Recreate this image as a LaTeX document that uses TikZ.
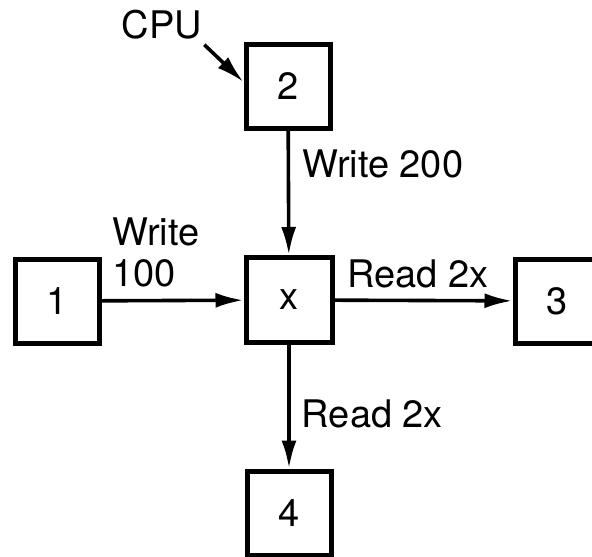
\documentclass[tikz,border=0pt]{standalone}
\usepackage{fontspec}
\setmainfont{TeX Gyre Heros}
\usepackage{tikz}
\usetikzlibrary{positioning}
\usetikzlibrary{arrows.meta}
\newcommand{\mytikzfontsize}{\fontsize{38}{41}\selectfont}
\tikzstyle{membox}=[
    draw,
    rectangle,
    line width=5,
    minimum width=84,
    minimum height=84,
    inner sep=0pt
]
\tikzstyle{link}=[
    line width=3.6,
    -{Latex[length=28,width=15]}
]
\tikzstyle{mytikzcacheoptions}=[
    x=1pt,
    y=-1pt,
    every node/.append style={inner sep=0pt},
    font=\mytikzfontsize
]
\begin{document}
\begin{tikzpicture}[mytikzcacheoptions]
    \useasboundingbox (0,0) rectangle (592,557);
    \clip (0,0) rectangle (592,557);

    % nodes
    \node[membox] (b2) at (288,86)  {2};
    \node[membox,minimum width=86,minimum height=85] (bx) at (289,300) {x};
    \node[membox] (b1) at (57,301)  {1};
    \node[membox] (b3) at (557,301) {3};
    \node[membox] (b4) at (289,513) {4};

    \node (cpu) at (162,25) {CPU};

    % edges
    \draw[link] ([shift={(2,5)}]cpu.south east) -- ([yshift=4pt]b2.west);
    \draw[link] (b2) edge node[anchor=base west,xshift=12,yshift=15] {Write 200} (bx);
    \draw[link] (b1) edge node[anchor=south west,align=left,xshift=-62,yshift=12] {Write\\100} (bx);
    \draw[link] (bx) edge node[anchor=base west,xshift=-78,yshift=13] {Read 2x} (b3);
    \draw[link] (bx) edge node[anchor=base west,xshift=11,yshift=-21] {Read 2x} (b4);
\end{tikzpicture}
\end{document}
